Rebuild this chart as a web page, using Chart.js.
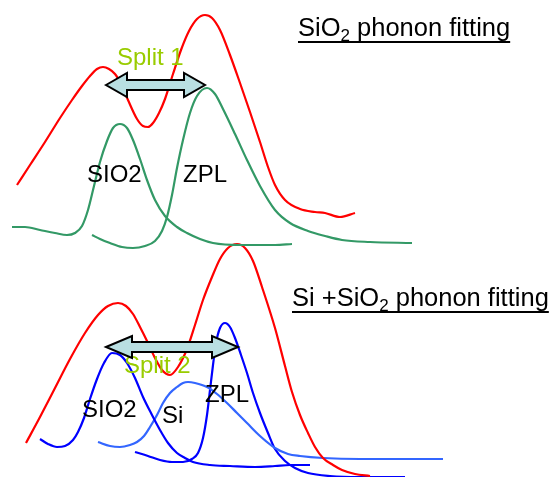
<!DOCTYPE html>
<html>
<head>
<meta charset="utf-8">
<script src="https://cdn.jsdelivr.net/npm/chart.js@4.4.1/dist/chart.umd.min.js"></script>
<style>
  html, body { margin: 0; padding: 0; background: #ffffff; }
  #c { display: block; }
</style>
</head>
<body>
<canvas id="c" width="550" height="477"></canvas>
<script>
// ---- Data (x = energy axis units, y = drawing units, downward) ----
const topMeasured = [[17,185],[30,165],[45,142],[60,118],[72,100],[82,86],[90,76],[97,69],[103,67],[109,69],[115,74],[121,84],[128,100],[137,119],[143,126],[148,127],[153,123],[159,113],[165,99],[173,74],[181,50],[189,31],[197,19],[205,15],[212,18],[220,30],[230,55],[240,83],[250,112],[260,142],[268,167],[275,185],[285,200],[300,209],[315,212],[325,213],[340,217],[355,213]];
const topSiO2Fit = [[12,227],[25,227],[40,230],[55,233],[67,235],[75,233],[82,226],[88,210],[94,186],[100,162],[107,141],[113,128],[120,124],[127,128],[133,140],[140,159],[147,180],[155,200],[165,216],[177,227],[187,233],[200,239],[213,243],[240,245],[275,245],[292,244]];
const topZPLFit = [[92,235],[100,239],[110,243],[122,247],[133,248],[145,246],[155,241],[162,231],[167,217],[172,195],[177,168],[183,140],[190,113],[197,96],[207,88],[215,94],[223,109],[235,134],[247,160],[260,186],[275,210],[290,223],[308,231],[325,236],[342,240],[370,242],[412,243]];
const botMeasured = [[26,443],[40,417],[55,388],[70,359],[85,333],[98,315],[108,306],[118,303],[126,306],[133,314],[140,327],[148,343],[155,358],[162,370],[170,375],[178,367],[187,349],[195,325],[203,300],[212,277],[220,259],[228,248],[237,244],[245,248],[253,261],[262,287],[275,328],[285,366],[292,392],[300,415],[308,433],[315,447],[323,458],[333,465],[342,470],[355,474],[370,476]];
const botSiO2Fit = [[40,439],[48,444],[57,447],[65,446],[73,440],[78,432],[84,418],[90,399],[97,379],[104,363],[112,353],[120,355],[127,363],[135,378],[143,397],[152,415],[160,430],[168,443],[177,453],[185,458],[193,462],[210,465],[230,466],[255,467],[275,466],[290,465],[310,465]];
const botZPLFit = [[135,452],[148,456],[160,460],[172,462],[183,462],[192,459],[198,453],[203,438],[207,415],[210,390],[213,365],[216,343],[220,328],[225,323],[230,327],[235,338],[241,355],[247,373],[253,393],[260,413],[268,433],[275,449],[285,461],[295,468],[308,473],[330,476],[360,477],[405,477]];
const botSiFit = [[98,442],[110,446],[120,447],[130,445],[137,442],[144,436],[150,427],[157,415],[163,403],[170,393],[177,387],[183,383],[188,382],[195,383],[207,387],[217,394],[227,403],[237,413],[247,423],[260,436],[275,448],[288,454],[300,456],[323,458],[360,459],[400,459],[443,459]];

// text labels
const labelTexts = ['Split 1', 'SIO2', 'ZPL', 'Split 2', 'SIO2', 'Si', 'ZPL'];
const labelX = [117, 87, 183, 124, 82, 162, 205];
const labelY = [65, 182, 182, 373, 417, 423, 402];
// split arrows: [left tip x, right tip x, centre y]
const splitArrows = [[106, 205, 85], [106, 238, 347]];
// titles
const titleParts = [['SiO', '2', ' phonon fitting'], ['Si +SiO', '2', ' phonon fitting']];
const titleX = [298, 292];
const titleY = [36, 306];

// ---- Styling ----
const toPts = a => a.map(p => ({x: p[0], y: p[1]}));
const mk = (label, pts, color) => ({
  label, data: toPts(pts), borderColor: color, backgroundColor: color,
  borderWidth: 2.2, pointRadius: 0, showLine: true, cubicInterpolationMode: 'monotone',
  fill: false, clip: false
});

const labelColors = ['#99cc00', '#000', '#000', '#99cc00', '#000', '#000', '#000'];

const overlay = {
  id: 'overlay',
  afterDatasetsDraw(chart) {
    const ctx = chart.ctx;
    const xs = chart.scales.x, ys = chart.scales.y;
    const px = v => xs.getPixelForValue(v), py = v => ys.getPixelForValue(v);
    ctx.save();
    // labels
    ctx.font = '24px "Liberation Sans", Arial, sans-serif';
    ctx.textBaseline = 'alphabetic';
    ctx.textAlign = 'left';
    labelTexts.forEach((t, i) => {
      ctx.fillStyle = labelColors[i];
      ctx.fillText(t, px(labelX[i]), py(labelY[i]));
    });
    // arrows
    splitArrows.forEach((a, i) => {
      const x1 = px(a[0]), x2 = px(a[1]), yc = py(a[2]);
      const hh = i === 0 ? 12 : 11, sh = 5, hl = i === 0 ? 21 : 26;
      ctx.beginPath();
      ctx.moveTo(x1, yc);
      ctx.lineTo(x1 + hl, yc - hh);
      ctx.lineTo(x1 + hl, yc - sh);
      ctx.lineTo(x2 - hl, yc - sh);
      ctx.lineTo(x2 - hl, yc - hh);
      ctx.lineTo(x2, yc);
      ctx.lineTo(x2 - hl, yc + hh);
      ctx.lineTo(x2 - hl, yc + sh);
      ctx.lineTo(x1 + hl, yc + sh);
      ctx.lineTo(x1 + hl, yc + hh);
      ctx.closePath();
      ctx.fillStyle = '#b9dfe2';
      ctx.fill();
      ctx.lineWidth = 2;
      ctx.lineJoin = 'miter';
      ctx.strokeStyle = '#000';
      ctx.stroke();
    });
    // titles with subscript and underline
    titleParts.forEach((parts, i) => {
      let x = px(titleX[i]);
      const y = py(titleY[i]);
      ctx.fillStyle = '#000';
      const startX = x;
      ctx.font = '25.5px "Liberation Sans", Arial, sans-serif';
      ctx.fillText(parts[0], x, y);
      x += ctx.measureText(parts[0]).width;
      ctx.font = '17px "Liberation Sans", Arial, sans-serif';
      ctx.fillText(parts[1], x, y + 5);
      x += ctx.measureText(parts[1]).width;
      ctx.font = '25.5px "Liberation Sans", Arial, sans-serif';
      ctx.fillText(parts[2], x, y);
      x += ctx.measureText(parts[2]).width;
      ctx.fillRect(startX, y + 5, x - startX, 2);
    });
    ctx.restore();
  }
};

new Chart(document.getElementById('c'), {
  type: 'scatter',
  data: {
    datasets: [
      mk('Measured (SiO2 fit)', topMeasured, '#ff0000'),
      mk('SiO2 phonon', topSiO2Fit, '#339966'),
      mk('ZPL', topZPLFit, '#339966'),
      mk('Measured (Si+SiO2 fit)', botMeasured, '#ff0000'),
      mk('SiO2 phonon', botSiO2Fit, '#0000ff'),
      mk('Si phonon', botSiFit, '#3366ff'),
      mk('ZPL', botZPLFit, '#0000ff')
    ]
  },
  options: {
    responsive: false,
    animation: false,
    layout: { padding: 0 },
    plugins: { legend: { display: false }, tooltip: { enabled: false }, title: { display: false } },
    scales: {
      x: { type: 'linear', min: 0, max: 550, display: false },
      y: { type: 'linear', min: 0, max: 477, reverse: true, display: false }
    }
  },
  plugins: [overlay]
});
</script>
</body>
</html>
